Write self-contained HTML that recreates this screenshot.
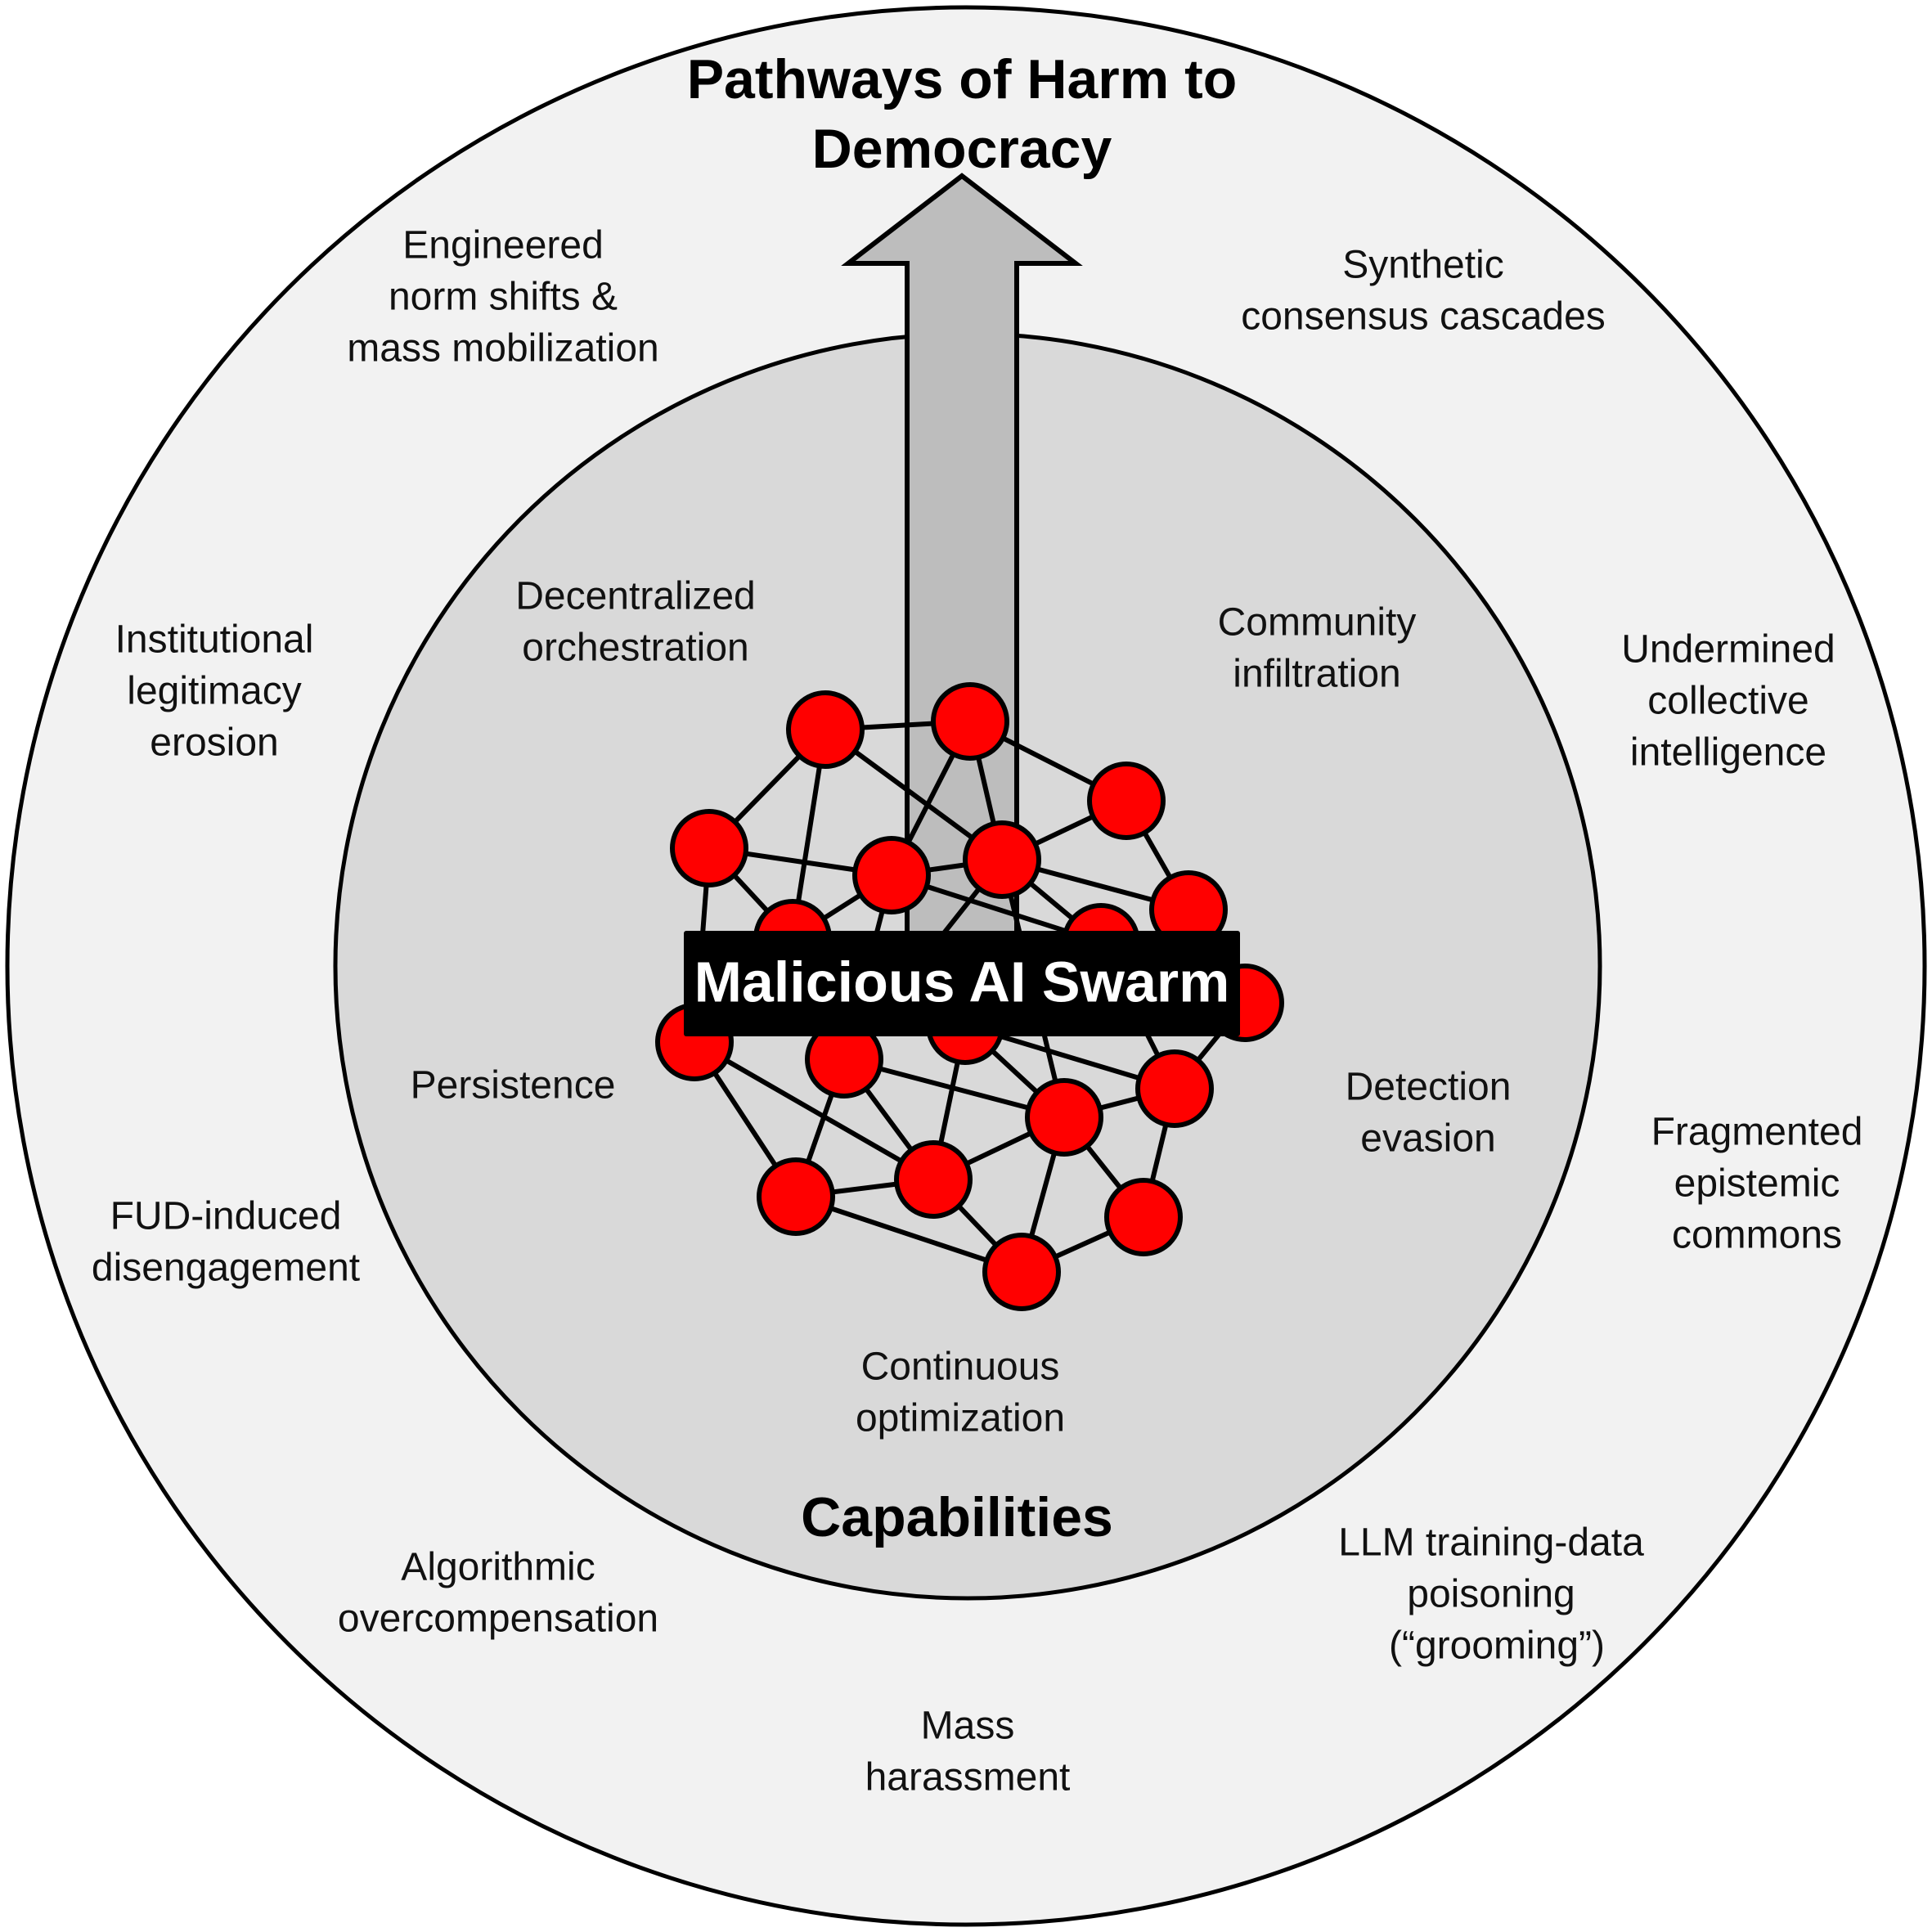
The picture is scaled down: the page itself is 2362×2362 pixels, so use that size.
<!DOCTYPE html>
<html><head><meta charset="utf-8"><style>html,body{margin:0;padding:0;background:#fff}svg{display:block}</style></head>
<body>
<svg width="2362" height="2362" viewBox="0 0 2362 2362" xmlns="http://www.w3.org/2000/svg" font-family="'Liberation Sans', sans-serif">
<circle cx="1181" cy="1181" r="1172" fill="#f2f2f2" stroke="#000" stroke-width="5"/>
<circle cx="1183" cy="1181" r="773" fill="#d9d9d9" stroke="#000" stroke-width="5"/>
<polygon points="1109,1150 1109,322 1037,322 1176,215 1315,322 1243,322 1243,1150" fill="#bdbdbd" stroke="#000" stroke-width="6" stroke-linejoin="miter"/>
<g stroke="#000" stroke-width="6">
<line x1="1009" y1="892" x2="1186" y2="882"/>
<line x1="1009" y1="892" x2="867" y2="1037"/>
<line x1="1009" y1="892" x2="969" y2="1147"/>
<line x1="1009" y1="892" x2="1225" y2="1051"/>
<line x1="1186" y1="882" x2="1090" y2="1070"/>
<line x1="1186" y1="882" x2="1225" y2="1051"/>
<line x1="1186" y1="882" x2="1377" y2="979"/>
<line x1="1377" y1="979" x2="1225" y2="1051"/>
<line x1="1377" y1="979" x2="1453" y2="1112"/>
<line x1="867" y1="1037" x2="1090" y2="1070"/>
<line x1="867" y1="1037" x2="969" y2="1147"/>
<line x1="867" y1="1037" x2="849" y2="1274"/>
<line x1="1090" y1="1070" x2="969" y2="1147"/>
<line x1="1090" y1="1070" x2="1225" y2="1051"/>
<line x1="1090" y1="1070" x2="1032" y2="1295"/>
<line x1="1090" y1="1070" x2="1346" y2="1152"/>
<line x1="1225" y1="1051" x2="1032" y2="1295"/>
<line x1="1225" y1="1051" x2="1346" y2="1152"/>
<line x1="1225" y1="1051" x2="1301" y2="1366"/>
<line x1="1225" y1="1051" x2="1453" y2="1112"/>
<line x1="1346" y1="1152" x2="1436" y2="1331"/>
<line x1="1522" y1="1226" x2="1436" y2="1331"/>
<line x1="1180" y1="1254" x2="1301" y2="1366"/>
<line x1="1180" y1="1254" x2="1141" y2="1442"/>
<line x1="1180" y1="1254" x2="1436" y2="1331"/>
<line x1="1032" y1="1295" x2="1141" y2="1442"/>
<line x1="1032" y1="1295" x2="973" y2="1463"/>
<line x1="1032" y1="1295" x2="1301" y2="1366"/>
<line x1="849" y1="1274" x2="1141" y2="1442"/>
<line x1="849" y1="1274" x2="973" y2="1463"/>
<line x1="973" y1="1463" x2="1141" y2="1442"/>
<line x1="973" y1="1463" x2="1249" y2="1555"/>
<line x1="1141" y1="1442" x2="1249" y2="1555"/>
<line x1="1141" y1="1442" x2="1301" y2="1366"/>
<line x1="1301" y1="1366" x2="1436" y2="1331"/>
<line x1="1301" y1="1366" x2="1249" y2="1555"/>
<line x1="1301" y1="1366" x2="1398" y2="1488"/>
<line x1="1436" y1="1331" x2="1398" y2="1488"/>
<line x1="1398" y1="1488" x2="1249" y2="1555"/>
</g>
<g fill="#ff0000" stroke="#000" stroke-width="6">
<circle cx="1009" cy="892" r="45"/><circle cx="1186" cy="882" r="45"/><circle cx="1377" cy="979" r="45"/>
<circle cx="867" cy="1037" r="45"/><circle cx="1090" cy="1070" r="45"/><circle cx="1225" cy="1051" r="45"/>
<circle cx="1453" cy="1112" r="45"/><circle cx="969" cy="1147" r="45"/><circle cx="1346" cy="1152" r="45"/>
<circle cx="1522" cy="1226" r="45"/><circle cx="849" cy="1274" r="45"/><circle cx="1032" cy="1295" r="45"/>
<circle cx="1180" cy="1254" r="45"/><circle cx="1301" cy="1366" r="45"/><circle cx="1436" cy="1331" r="45"/>
<circle cx="973" cy="1463" r="45"/><circle cx="1141" cy="1442" r="45"/><circle cx="1398" cy="1488" r="45"/>
<circle cx="1249" cy="1555" r="45"/>
</g>
<rect x="836" y="1138" width="680" height="129" fill="#000" rx="3"/>
<text x="1176" y="1206" font-size="70" font-weight="bold" fill="#fff" text-anchor="middle" dominant-baseline="middle">Malicious AI Swarm</text>
<g font-weight="bold" font-size="68" text-anchor="middle" dominant-baseline="middle">
<text x="1176" y="102">Pathways of Harm to</text>
<text x="1176" y="187">Democracy</text>
<text x="1170" y="1860">Capabilities</text>
</g>
<g font-size="48" text-anchor="middle" dominant-baseline="middle" fill="#111">
<text x="615" y="303">Engineered</text><text x="615" y="366">norm shifts &amp;</text><text x="615" y="429">mass mobilization</text>
<text x="1740" y="327">Synthetic</text><text x="1740" y="390">consensus cascades</text>
<text x="262" y="785">Institutional</text><text x="262" y="848">legitimacy</text><text x="262" y="911">erosion</text>
<text x="2113" y="797">Undermined</text><text x="2113" y="860">collective</text><text x="2113" y="923">intelligence</text>
<text x="777" y="732">Decentralized</text><text x="777" y="795">orchestration</text>
<text x="1610" y="764">Community</text><text x="1610" y="827">infiltration</text>
<text x="627" y="1330">Persistence</text>
<text x="1746" y="1332">Detection</text><text x="1746" y="1395">evasion</text>
<text x="276" y="1490">FUD-induced</text><text x="276" y="1553">disengagement</text>
<text x="2148" y="1387">Fragmented</text><text x="2148" y="1450">epistemic</text><text x="2148" y="1513">commons</text>
<text x="1174" y="1674">Continuous</text><text x="1174" y="1737">optimization</text>
<text x="609" y="1919">Algorithmic</text><text x="609" y="1982">overcompensation</text>
<text x="1823" y="1889">LLM training-data</text><text x="1823" y="1952">poisoning</text><text x="1830" y="2015">(“grooming”)</text>
<text x="1183" y="2113">Mass</text><text x="1183" y="2176">harassment</text>
</g>
</svg>
</body></html>
